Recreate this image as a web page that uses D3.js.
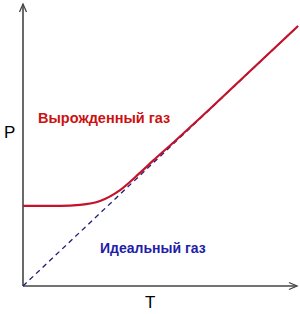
<!DOCTYPE html>
<html>
<head>
<meta charset="utf-8">
<script src="https://cdn.jsdelivr.net/npm/d3@7"></script>
<style>
  body { margin: 0; background: #fff; }
  svg { display: block; font-family: "Liberation Sans", Arial, sans-serif; }
</style>
</head>
<body>
<svg id="chart" width="300" height="314"></svg>
<script>
// Degenerate gas curve (T, P in arbitrary units 0..10)
const degenT = [0, 1.35, 2.07, 2.8, 3.53, 4.25, 4.73, 5.5, 6.44, 8.25, 10];
const degenP = [3.08, 3.08, 3.12, 3.27, 3.69, 4.35, 4.82, 5.55, 6.46, 8.26, 10];

// Ideal gas line P ~ T
const idealT = [0, 10];
const idealP = [0, 10];

const labels = ['Вырожденный газ', 'Идеальный газ'];

const svg = d3.select('#chart');

const x = d3.scaleLinear().domain([0, 10]).range([23, 298]);
const y = d3.scaleLinear().domain([0, 10]).range([286, 26]);

// axes with arrows
const axisColor = '#444';
svg.append('line')
  .attr('x1', x(0)).attr('y1', y(0))
  .attr('x2', 297).attr('y2', y(0))
  .attr('stroke', axisColor).attr('stroke-width', 1.6);
svg.append('path')
  .attr('d', `M${289},${y(0) - 3.5} L${297},${y(0)} L${289},${y(0) + 3.5}`)
  .attr('fill', 'none').attr('stroke', axisColor).attr('stroke-width', 1.3);

svg.append('line')
  .attr('x1', x(0)).attr('y1', y(0))
  .attr('x2', x(0)).attr('y2', 4)
  .attr('stroke', axisColor).attr('stroke-width', 1.6);
svg.append('path')
  .attr('d', `M${x(0) - 3.5},${12} L${x(0)},${4} L${x(0) + 3.5},${12}`)
  .attr('fill', 'none').attr('stroke', axisColor).attr('stroke-width', 1.3);

// ideal gas, dashed (runs under the red curve at high T)
const line = d3.line().x(d => x(d[0])).y(d => y(d[1]));
svg.append('path')
  .datum(d3.zip(idealT, idealP))
  .attr('d', line)
  .attr('fill', 'none')
  .attr('stroke', '#1c1c7a')
  .attr('stroke-width', 1.3)
  .attr('stroke-dasharray', '5,4');

// degenerate gas curve
svg.append('path')
  .datum(d3.zip(degenT, degenP))
  .attr('d', line.curve(d3.curveMonotoneX))
  .attr('fill', 'none')
  .attr('stroke', '#c4122a')
  .attr('stroke-width', 2.2);

// labels
svg.append('text')
  .attr('x', 38).attr('y', 123)
  .attr('font-size', 14.5).attr('font-weight', 'bold')
  .attr('fill', '#cc1111')
  .text(labels[0]);

svg.append('text')
  .attr('x', 100).attr('y', 253)
  .attr('font-size', 14).attr('font-weight', 'bold')
  .attr('fill', '#2020a8')
  .text(labels[1]);

svg.append('text')
  .attr('x', 4).attr('y', 138)
  .attr('font-size', 17)
  .attr('fill', '#000')
  .text('P');

svg.append('text')
  .attr('x', 145).attr('y', 308)
  .attr('font-size', 17)
  .attr('fill', '#000')
  .text('T');
</script>
</body>
</html>
